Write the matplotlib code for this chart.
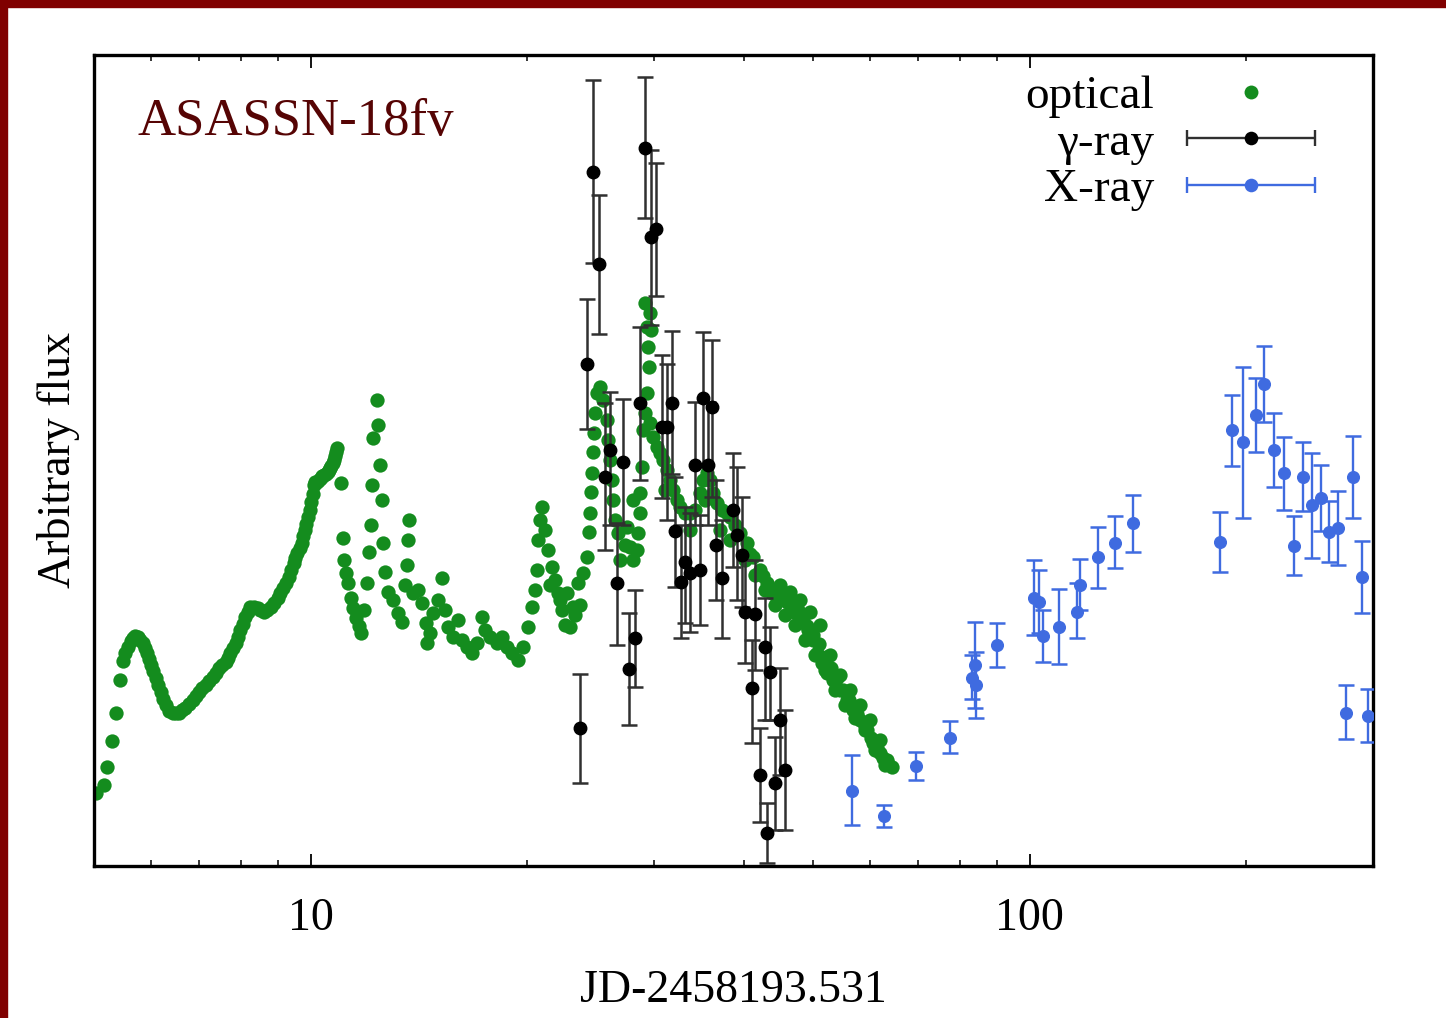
import numpy as np
import matplotlib
matplotlib.use("Agg")
import matplotlib.pyplot as plt
from matplotlib.lines import Line2D
from matplotlib.collections import LineCollection
from matplotlib.container import ErrorbarContainer
from matplotlib.legend_handler import HandlerErrorbar
from matplotlib.patches import Rectangle
from matplotlib.ticker import LogLocator, NullFormatter, FixedLocator, FixedFormatter

plt.rcParams['font.family'] = ['Liberation Serif', 'DejaVu Serif']

# ---------------- data ----------------
# optical (days since JD 2458193.531, arbitrary flux)
opt_day = [5.03, 5.16, 5.22, 5.29, 5.36, 5.43, 5.48, 5.57, 5.66, 5.75, 5.84, 5.92, 6.00, 6.09,
           6.19, 6.29, 6.43, 6.56, 6.70, 6.86, 6.99, 7.15, 7.31, 7.45, 7.62, 7.74, 7.87, 7.99,
           8.12, 8.25, 8.44, 8.61, 8.80, 9.00, 9.17, 9.32, 9.47, 9.59, 9.72, 9.81, 9.91, 10.03,
           10.10, 10.20, 10.33, 10.45, 10.56, 10.65, 10.73, 10.82, 10.90, 11.01,
           5.52, 5.62, 5.70, 5.80, 5.88, 5.96, 6.04, 6.14, 6.24, 6.36, 6.50, 6.63, 6.78, 6.92,
           7.07, 7.23, 7.38, 7.53, 7.68, 7.80, 7.93, 8.05, 8.18, 8.34, 8.52, 8.70, 8.90, 9.08,
           9.25, 9.40, 9.53, 9.66, 9.77, 9.86, 9.97, 10.07, 10.15, 10.27, 10.39, 10.50, 10.61,
           10.69, 10.78, 10.86,
           11.11, 11.14, 11.22, 11.29, 11.37, 11.44, 11.55, 11.66, 11.74, 11.85, 12.00, 12.04,
           12.12, 12.19, 12.23, 12.39, 12.43, 12.51, 12.59, 12.60, 12.71, 12.83, 13.04, 13.25,
           13.42, 13.55, 13.64, 13.65, 13.72, 13.90, 14.12, 14.31, 14.45, 14.54, 14.68, 14.82,
           15.06, 15.25, 15.40, 15.55, 15.80, 16.05, 16.26, 16.52, 16.79, 17.06, 17.33, 17.50,
           17.78, 18.19, 18.48, 18.78, 19.08, 19.45, 19.76, 20.08, 20.34, 20.54, 20.67, 20.73,
           20.87, 21.00, 21.20, 21.41, 21.54, 21.68, 21.89, 22.10, 22.25, 22.39, 22.60, 22.75,
           22.97, 23.19, 23.34, 23.56, 23.71, 23.94, 24.25, 24.41, 24.48, 24.56, 24.64, 24.72,
           24.80, 24.88, 25.04, 25.28, 25.52, 25.85, 25.93, 26.10, 26.27, 26.35, 26.52, 26.78,
           26.95, 27.38, 27.56, 27.83, 28.10, 28.46, 28.55, 28.73, 28.10, 28.75, 28.91, 29.00,
           29.20, 29.38, 29.57, 29.48, 29.40, 29.22, 29.66, 29.76, 29.68, 29.95, 30.33, 30.63,
           30.92, 31.13, 31.32, 31.62, 31.93, 32.34, 32.65, 33.17, 33.71, 33.71, 34.25, 34.81,
           35.14, 35.37, 35.60, 35.94, 36.28, 36.75, 37.11, 37.35, 37.95, 38.31, 38.30, 38.93,
           39.56, 40.45, 41.23, 42.17, 43.12, 43.82, 44.67, 45.68, 46.72, 47.62, 48.39, 49.17,
           49.96, 50.60, 51.42, 52.24, 53.26, 54.46, 55.69, 56.77, 58.06, 59.37, 60.53, 61.89,
           63.29, 64.31,
           40.19, 41.50, 42.85, 44.24, 45.70, 47.17, 48.70, 50.28, 51.91, 53.60, 55.34, 57.14,
           58.99, 60.92, 62.89,
           44.96, 46.42, 47.93, 49.48, 51.09, 52.75, 54.50, 56.23, 58.10, 59.95, 61.90,
           40.8, 42.5, 44.0, 45.2, 46.0, 47.0, 48.0, 49.0, 50.0, 51.0, 52.0, 53.0, 54.0, 55.0,
           56.0, 57.5, 59.0, 60.2, 61.3, 62.5, 63.6]
opt_flux = [73, 81, 99, 125, 153, 186, 205, 219, 228, 229, 223, 213, 201, 188,
            174, 161, 153, 153, 158, 166, 174, 181, 189, 198, 204, 213, 223, 236,
            249, 259, 258, 254, 259, 268, 278, 289, 303, 313, 323, 336, 349, 364,
            381, 384, 388, 391, 394, 398, 403, 410, 418, 383,
            213, 225, 230, 226, 218, 207, 195, 181, 167, 155, 153, 156, 162, 170,
            178, 185, 193, 201, 208, 218, 229, 242, 254, 259, 256, 256, 263, 273,
            283, 296, 308, 318, 330, 342, 356, 372, 384, 386, 390, 392, 396,
            400, 406, 414,
            328, 306, 293, 283, 268, 258, 248, 240, 233, 256, 283, 314,
            341, 381, 428, 466, 441, 401, 366, 323, 294, 274, 266, 253,
            244, 281, 301, 326, 346, 273, 276, 263, 243, 223, 233, 253,
            266, 288, 256, 239, 229, 246, 226, 219, 213, 223, 249, 236,
            229, 223, 229, 219, 213, 206, 219, 239, 259, 276, 296, 326,
            346, 359, 336, 316, 281, 299, 286, 273, 266, 256, 241, 273,
            239, 259, 251, 283, 261, 293, 309, 334, 353, 374, 393, 414,
            433, 453, 473, 479, 466, 446, 426, 406, 386, 366, 346, 333,
            306, 321, 339, 319, 306, 316, 333, 353, 366, 373, 399, 436,
            453, 473, 499, 519, 539, 563, 553, 536, 443, 429, 419, 413,
            406, 376, 396, 386, 376, 366, 359, 353, 353, 336, 356, 373,
            386, 366, 393, 386, 373, 363, 336, 356, 353, 349, 326, 341,
            333, 323, 309, 296, 283, 273, 273, 266, 266, 256, 246, 236,
            226, 213, 203, 193, 186, 176, 166, 156, 146, 136, 123, 113,
            106, 99,
            306, 291, 276, 261, 251, 241, 226, 211, 196, 176, 161, 148,
            136, 116, 101,
            281, 274, 266, 254, 241, 211, 191, 176, 161, 146, 126,
            312, 290, 276, 268, 264, 254, 248, 240, 231, 222, 209, 198,
            188, 176, 166, 152, 140, 128, 118, 108, 102]

# gamma-ray
gam_day = [23.71, 24.25, 24.72, 25.19, 25.68, 26.10, 26.69, 27.21, 27.74, 28.28, 28.73, 29.20,
           29.76, 30.24, 30.83, 31.32, 31.83, 32.13, 32.75, 33.17, 33.71, 34.25, 34.81, 35.14,
           35.71, 36.17, 36.64, 37.35, 38.69, 39.19, 39.81, 40.19, 41.50, 41.10, 42.85, 43.54,
           44.96, 42.17, 44.24, 45.68, 43.12]
gam_flux = [138, 502, 694, 602, 389, 416, 283, 404, 197, 228, 463, 718,
            629, 637, 439, 439, 463, 335, 284, 304, 293, 401, 296, 468,
            401, 459, 321, 288, 356, 331, 311, 254, 252, 178, 219, 194,
            146, 91, 83, 96, 33]
gam_err_lo = [55, 65, 91, 70, 73, 75, 62, 63, 56, 49, 77, 70,
              88, 67, 71, 93, 71, 56, 56, 61, 59, 60, 55, 69,
              60, 90, 55, 60, 57, 65, 52, 51, 56, 55, 73, 48,
              55, 47, 47, 60, 30]
gam_err_hi = [54, 65, 92, 69, 74, 58, 60, 63, 56, 48, 76, 71,
              87, 66, 72, 63, 72, 54, 57, 55, 60, 63, 55, 66,
              63, 67, 65, 58, 57, 68, 58, 52, 54, 48, 49, 45,
              52, 47, 46, 60, 30]

# X-ray
xr_day = [56.6, 62.7, 69.5, 77.4, 83.1, 83.9, 84.1, 90.0, 101.3, 102.9, 104.3, 109.7,
          116.2, 117.4, 124.3, 131.3, 139.0, 183.6, 190.8, 197.6, 206.0, 211.3, 218.3,
          225.4, 232.7, 239.4, 246.4, 253.6, 260.2, 267.8, 274.8, 281.0, 289.2, 294.8]
xr_flux = [75, 50, 100, 128, 188, 201, 181, 221, 268, 264, 230, 239,
           254, 281, 309, 323, 343, 324, 436, 424, 451, 482, 416,
           393, 320, 389, 361, 368, 334, 338, 153, 389, 289, 150]
xr_err_lo = [34, 11, 14, 15, 21, 43, 33, 22, 37, 31, 26, 37,
             26, 25, 31, 25, 29, 30, 36, 76, 37, 38, 37,
             37, 29, 34, 53, 33, 30, 37, 26, 41, 36, 26]
xr_err_hi = [36, 11, 14, 17, 23, 43, 33, 22, 38, 32, 26, 38,
             29, 26, 30, 27, 28, 30, 35, 75, 37, 38, 37,
             36, 30, 35, 52, 33, 31, 37, 28, 41, 36, 27]

labels = ['optical', 'γ-ray', 'X-ray']
xtick_vals = [10, 100]
xtick_labels = ['10', '100']

# ---------------- style ----------------
GREEN = '#148C1E'
BLACK = '#000000'
BAR_BLACK = '#303030'
BLUE = '#3F6BE0'
TITLE_COL = '#560404'
BORDER = '#800000'
FS = 33

fig = plt.figure(figsize=(14.46, 10.18), dpi=100)
ax = fig.add_axes([94/1446, 1 - 866/1018, (1373-94)/1446, (866-55)/1018])

ax.plot(opt_day, opt_flux, 'o', color=GREEN, ms=10.3, mew=0, zorder=2)

eb_g = ax.errorbar(gam_day, gam_flux, yerr=[gam_err_lo, gam_err_hi], fmt='o',
                   color=BLACK, ecolor=BAR_BLACK, ms=9.0, elinewidth=1.8,
                   capsize=5.5, capthick=1.8, zorder=3)
eb_x = ax.errorbar(xr_day, xr_flux, yerr=[xr_err_lo, xr_err_hi], fmt='o',
                   color=BLUE, ecolor=BLUE, ms=8.4, elinewidth=1.7,
                   capsize=5.5, capthick=1.7, zorder=4)
for eb, col in ((eb_g, BAR_BLACK), (eb_x, BLUE)):
    for cap in eb[1]:
        cap.set_markeredgewidth(1.8)
        cap.set_markeredgecolor(col)
        cap.set_markersize(11)

ax.set_xscale('log')
ax.set_xlim(5, 300)
ax.set_ylim(0, 811)
ax.set_yticks([])
ax.xaxis.set_major_locator(FixedLocator(xtick_vals))
ax.xaxis.set_major_formatter(FixedFormatter(xtick_labels))
ax.xaxis.set_minor_locator(LogLocator(base=10, subs=np.arange(2, 10)))
ax.xaxis.set_minor_formatter(NullFormatter())
ax.tick_params(axis='x', which='both', direction='in', top=True, bottom=True,
               labelsize=FS, pad=23)
ax.tick_params(axis='x', which='major', length=9, width=1.3)
ax.tick_params(axis='x', which='minor', length=4.5, width=1.1)
for s in ax.spines.values():
    s.set_linewidth(2.4)

ax.set_xlabel('JD-2458193.531', fontsize=FS, labelpad=21)
ax.set_ylabel('Arbitrary flux', fontsize=FS, labelpad=10)

ax.text(0.034, 0.901, 'ASASSN-18fv', transform=ax.transAxes, fontsize=38,
        color=TITLE_COL, ha='left', va='baseline')

# legend proxies
h_opt = Line2D([], [], marker='o', color=GREEN, ls='none', ms=10, mew=0)

def eb_proxy(col, barcol, label):
    ln = Line2D([], [], marker='o', color=col, ls='none', ms=9.8, mew=0)
    cap = Line2D([], [], marker='|', color=barcol, ls='none', ms=11, mew=1.7)
    bar = LineCollection([], colors=barcol, linewidths=1.7)
    return ErrorbarContainer((ln, (cap,), (bar,)), has_xerr=True, has_yerr=False, label=label)

h_gam = eb_proxy(BLACK, BAR_BLACK, labels[1])
h_xr = eb_proxy(BLUE, BLUE, labels[2])

leg = ax.legend([h_opt, h_gam, h_xr], labels, loc='upper right',
                bbox_to_anchor=(0.958, 0.975), frameon=False,
                markerfirst=False, fontsize=34, handlelength=2.9, handletextpad=0.6,
                borderpad=0.0, borderaxespad=0.0, labelspacing=0.07, numpoints=1,
                handler_map={ErrorbarContainer: HandlerErrorbar(xerr_size=1.36)})

# dark red frame strips
fig.add_artist(Rectangle((0, 1 - 7/1018), 1, 7/1018, transform=fig.transFigure,
                         color=BORDER, zorder=10))
fig.add_artist(Rectangle((0, 0), 7/1446, 1, transform=fig.transFigure,
                         color=BORDER, zorder=10))

fig.savefig('out.png', dpi=100)
